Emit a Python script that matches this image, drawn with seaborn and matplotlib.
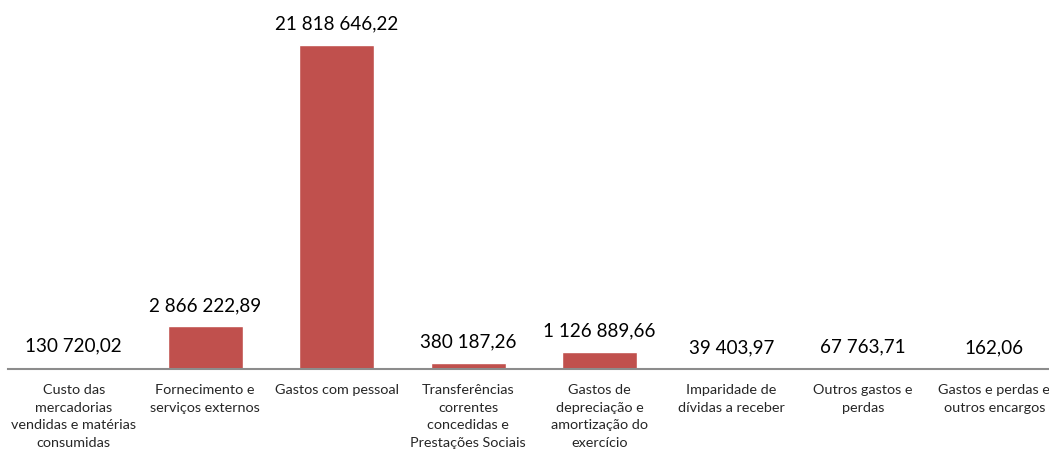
import matplotlib
matplotlib.use("Agg")
import pandas as pd
import seaborn as sns
import matplotlib.pyplot as plt

categorias = [
    "Custo das\nmercadorias\nvendidas e matérias\nconsumidas",
    "Fornecimento e\nserviços externos",
    "Gastos com pessoal",
    "Transferências\ncorrentes\nconcedidas e\nPrestações Sociais",
    "Gastos de\ndepreciação e\namortização do\nexercício",
    "Imparidade de\ndívidas a receber",
    "Outros gastos e\nperdas",
    "Gastos e perdas e\noutros encargos",
]
valores = [130720.02, 2866222.89, 21818646.22, 380187.26, 1126889.66,
           39403.97, 67763.71, 162.06]

df = pd.DataFrame({"Categoria": categorias, "Valor": valores})

sns.set_style("white")
plt.rcParams["font.family"] = ["Lato", "DejaVu Sans"]

fig = plt.figure(figsize=(10.49, 4.54), dpi=100)
# axes runs off the right edge, like the original
ax = fig.add_axes([8 / 1049, 85 / 454, 1052 / 1049, 369 / 454])

sns.barplot(data=df, x="Categoria", y="Valor", color="#C0504D",
            width=0.57, saturation=1, ax=ax)

ax.set_ylim(0, max(valores) * 369 / 324)
ax.set_xlim(-0.5, len(categorias) - 0.5)


def fmt(v):
    s = f"{v:,.2f}"
    return s.replace(",", " ").replace(".", ",")


for i, v in enumerate(valores):
    ax.annotate(fmt(v), (i, v), xytext=(0, 9), textcoords="offset points",
                ha="center", va="bottom", fontsize=13.6, color="#000000")

ax.set_xlabel("")
ax.set_ylabel("")
ax.set_yticks([])
for s in ["top", "right", "left"]:
    ax.spines[s].set_visible(False)
ax.spines["bottom"].set_color("#8c8c8c")
ax.spines["bottom"].set_linewidth(1.5)
ax.tick_params(axis="x", length=0, pad=11, labelsize=10.4)
for lab in ax.get_xticklabels():
    lab.set_linespacing(1.55)

fig.savefig("out.png", dpi=100)
